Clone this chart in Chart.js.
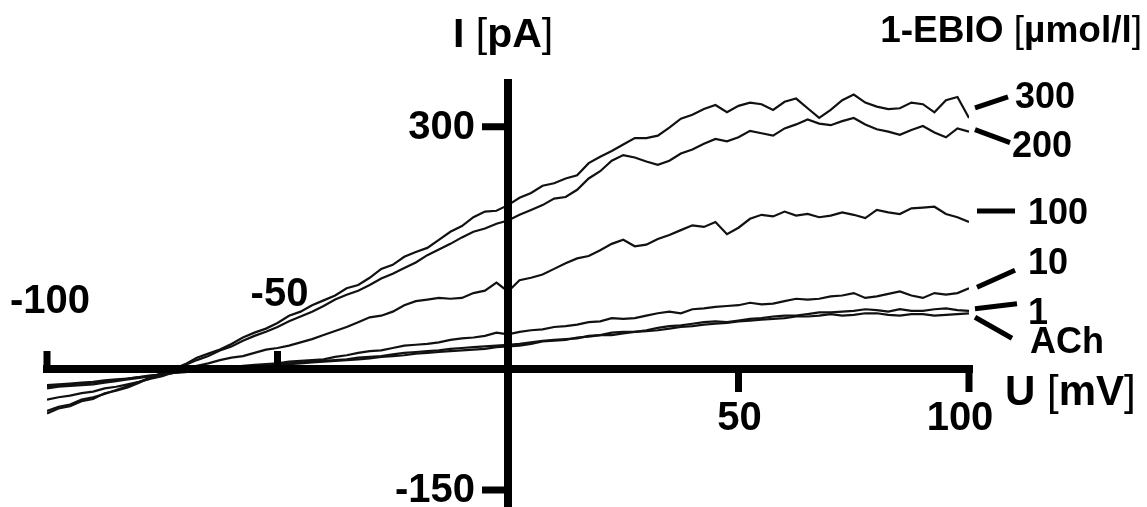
<!DOCTYPE html>
<html lang="en">

<head>
    <meta charset="UTF-8">
    <title>1-EBIO I-U curves</title>
    <script src="https://cdn.jsdelivr.net/npm/chart.js"></script>
    <style>
        html, body {
            margin: 0;
            padding: 0;
            background: #fff;
        }

        .chart-container {
            width: 1147px;
            height: 507px;
        }
    </style>
</head>

<body>
    <div class="chart-container"><canvas id="ivChart" width="1147" height="507"></canvas></div>

    <script>
        // membrane potential U [mV]
        const voltages = [-100, -97.5, -95, -92.5, -90, -87.5, -85, -82.5, -80, -77.5, -75, -72.5, -70, -67.5, -65, -62.5,
            -60, -57.5, -55, -52.5, -50, -47.5, -45, -42.5, -40, -37.5, -35, -32.5, -30, -27.5, -25, -22.5,
            -20, -17.5, -15, -12.5, -10, -7.5, -5, -2.5, 0, 2.5, 5, 7.5, 10, 12.5, 15, 17.5,
            20, 22.5, 25, 27.5, 30, 32.5, 35, 37.5, 40, 42.5, 45, 47.5, 50, 52.5, 55, 57.5,
            60, 62.5, 65, 67.5, 70, 72.5, 75, 77.5, 80, 82.5, 85, 87.5, 90, 92.5, 95, 97.5, 100];

        // current I [pA] for each 1-EBIO concentration (and ACh alone)
        const ebio300 = [-55, -49, -46, -40, -37, -30, -27, -23, -17, -10, -5, 0, 6, 14, 19, 24,
            31, 39, 45, 50, 57, 66, 71, 79, 85, 91, 100, 104, 113, 124, 129, 139,
            145, 150, 160, 170, 177, 188, 195, 196, 203, 212, 218, 227, 230, 236, 240, 255,
            263, 270, 278, 286, 286, 289, 299, 310, 315, 322, 327, 318, 326, 330, 328, 321,
            331, 335, 323, 311, 321, 333, 340, 330, 325, 322, 323, 330, 328, 318, 333, 337, 311];
        const ebio200 = [-52, -47, -44, -38, -35, -31, -26, -21, -16, -11, -5, 0, 5, 11, 16, 23,
            28, 35, 41, 46, 52, 59, 65, 71, 78, 86, 92, 97, 104, 112, 118, 125,
            132, 141, 148, 155, 163, 170, 174, 180, 184, 191, 197, 203, 211, 213, 222, 236,
            245, 258, 265, 262, 257, 253, 258, 267, 272, 279, 285, 282, 287, 295, 292, 289,
            298, 303, 309, 304, 302, 307, 311, 303, 297, 294, 290, 296, 301, 293, 287, 298, 294];
        const ebio100 = [-38, -35, -33, -30, -28, -24, -22, -19, -16, -12, -9, -4, 1, 4, 7, 11,
            14, 16, 20, 24, 26, 29, 33, 37, 42, 47, 52, 58, 64, 66, 71, 79,
            84, 86, 88, 87, 88, 94, 97, 107, 96, 110, 113, 117, 124, 131, 137, 140,
            147, 155, 160, 152, 154, 161, 166, 172, 178, 176, 182, 167, 175, 186, 191, 189,
            195, 190, 192, 188, 190, 194, 191, 187, 197, 194, 192, 199, 200, 201, 192, 188, 182];
        const ebio10 = [-24, -22, -21, -20, -19, -17, -15, -13, -11, -9, -7, -4, -2, -1, 0, 1,
            2, 4, 5, 6, 7, 9, 10, 11, 12, 15, 17, 20, 22, 23, 26, 29,
            30, 31, 33, 36, 38, 39, 41, 45, 43, 46, 48, 49, 52, 53, 55, 58,
            59, 63, 62, 63, 66, 69, 71, 69, 74, 75, 77, 78, 79, 82, 80, 81,
            84, 87, 86, 87, 90, 91, 94, 88, 90, 93, 96, 91, 88, 94, 92, 94, 100];
        const ebio1 = [-22, -21, -19, -18, -17, -15, -14, -12, -10, -9, -7, -5, -3, -1, 0, 1,
            2, 3, 4, 5, 6, 7, 8, 9, 10, 11, 12, 14, 15, 16, 18, 20,
            21, 22, 23, 25, 26, 27, 28, 29, 30, 31, 33, 35, 36, 37, 38, 41,
            42, 45, 46, 46, 48, 51, 53, 54, 56, 58, 59, 58, 60, 62, 63, 65,
            66, 66, 68, 70, 70, 71, 72, 74, 73, 71, 74, 72, 72, 74, 75, 73, 72];
        const ach = [-20, -19, -18, -17, -16, -14, -13, -12, -10, -8, -7, -5, -4, -2, -1, 0,
            1, 2, 3, 4, 5, 6, 7, 8, 9, 10, 11, 12, 13, 15, 16, 17,
            19, 20, 21, 22, 23, 24, 25, 27, 28, 29, 31, 34, 35, 36, 39, 40,
            42, 42, 44, 46, 47, 48, 50, 52, 53, 55, 56, 57, 59, 60, 61, 62,
            63, 65, 65, 66, 68, 66, 67, 69, 69, 67, 66, 68, 68, 66, 67, 68, 69];

        const seriesNames = ['300', '200', '100', '10', '1', 'ACh'];
        const seriesValues = [ebio300, ebio200, ebio100, ebio10, ebio1, ach];

        const xTicks = [-100, -50, 50, 100];
        const yTicks = [300, -150];

        // tick label shift (dx, baseline dy) relative to the tick on the axis
        const xTickLabelShift = { '-100': [3, -56], '-50': [2, -63], '50': [1, 61], '100': [-9, 61] };

        // leader line + label offsets from the end of each trace: x0, y0, x1, y1, textX, textY
        const labelOffsets = [
            [6, -10, 39, -21, 46, -20],
            [6, -2, 41, 11, 43, 15],
            [8, -11, 46, -11, 59, -8],
            [8, -1, 46, -18, 59, -24],
            [6, -2, 48, -7, 59, 3],
            [6, 4, 43, 25, 61, 30]
        ];

        const FONT = '"Liberation Sans", Arial, sans-serif';

        // brackets are set in regular weight, the rest bold
        function drawMixed(ctx, parts, x, y, size, align) {
            let total = 0;
            parts.forEach(p => {
                ctx.font = (p[1] ? 'bold ' : '') + size + 'px ' + FONT;
                total += ctx.measureText(p[0]).width;
            });
            let cx = align === 'right' ? x - total : x;
            ctx.textAlign = 'left';
            parts.forEach(p => {
                ctx.font = (p[1] ? 'bold ' : '') + size + 'px ' + FONT;
                ctx.fillText(p[0], cx, y);
                cx += ctx.measureText(p[0]).width;
            });
        }

        const axesPlugin = {
            id: 'crossAxes',
            afterDatasetsDraw(chart) {
                const ctx = chart.ctx;
                const xs = chart.scales.x;
                const ys = chart.scales.y;
                const area = chart.chartArea;
                const x0 = xs.getPixelForValue(0);
                const y0 = ys.getPixelForValue(0);

                ctx.save();
                ctx.strokeStyle = '#000';
                ctx.fillStyle = '#000';
                ctx.lineCap = 'butt';
                ctx.lineWidth = 8;

                // axes crossing at the origin
                ctx.beginPath();
                ctx.moveTo(xs.getPixelForValue(-100) - 4, y0);
                ctx.lineTo(xs.getPixelForValue(100) + 4, y0);
                ctx.moveTo(x0, area.top - 1);
                ctx.lineTo(x0, area.bottom);
                ctx.stroke();

                // x ticks: negative ones point up, positive ones down
                ctx.lineWidth = 7;
                ctx.beginPath();
                xTicks.forEach(v => {
                    const px = xs.getPixelForValue(v);
                    ctx.moveTo(px, y0);
                    ctx.lineTo(px, v < 0 ? y0 - 18 : y0 + 23);
                });
                yTicks.forEach(v => {
                    const py = ys.getPixelForValue(v);
                    ctx.moveTo(x0, py);
                    ctx.lineTo(x0 - 26, py);
                });
                ctx.stroke();

                ctx.font = 'bold 40px ' + FONT;
                ctx.textBaseline = 'alphabetic';
                ctx.textAlign = 'center';
                xTicks.forEach(v => {
                    const s = xTickLabelShift[String(v)];
                    ctx.fillText(String(v), xs.getPixelForValue(v) + s[0], y0 + s[1]);
                });
                ctx.textAlign = 'right';
                yTicks.forEach(v => {
                    ctx.fillText(String(v), x0 - 33, ys.getPixelForValue(v) + 12);
                });

                // axis titles
                drawMixed(ctx, [['I ', true], ['[', false], ['pA', true], [']', false]], x0 - 55, 47, 41, 'left');
                drawMixed(ctx, [['U ', true], ['[', false], ['mV', true], [']', false]], 1005, 405, 42, 'left');
                drawMixed(ctx, [['1-EBIO ', true], ['[', false], ['µmol/l', true], [']', false]], 1142, 42, 37, 'right');

                // series labels with leader lines
                ctx.lineWidth = 5;
                ctx.font = 'bold 36px ' + FONT;
                ctx.textAlign = 'left';
                ctx.textBaseline = 'middle';
                seriesValues.forEach((vals, i) => {
                    const ex = xs.getPixelForValue(voltages[voltages.length - 1]);
                    const ey = ys.getPixelForValue(vals[vals.length - 1]);
                    const o = labelOffsets[i];
                    ctx.beginPath();
                    ctx.moveTo(ex + o[0], ey + o[1]);
                    ctx.lineTo(ex + o[2], ey + o[3]);
                    ctx.stroke();
                    ctx.fillText(seriesNames[i], ex + o[4], ey + o[5]);
                });
                ctx.restore();
            }
        };

        const datasets = seriesValues.map((vals, i) => ({
            label: seriesNames[i],
            data: voltages.map((u, k) => ({ x: u, y: vals[k] })),
            showLine: true,
            borderColor: '#111',
            borderWidth: 2.2,
            pointRadius: 0,
            tension: 0,
            fill: false
        }));

        new Chart(document.getElementById('ivChart').getContext('2d'), {
            type: 'scatter',
            data: { datasets },
            options: {
                responsive: false,
                animation: false,
                layout: { padding: { left: 47, right: 178, top: 80, bottom: 0 } },
                plugins: { legend: { display: false }, tooltip: { enabled: false } },
                scales: {
                    x: { type: 'linear', min: -100, max: 100, display: false },
                    y: { type: 'linear', min: -171, max: 358, display: false }
                }
            },
            plugins: [axesPlugin]
        });
    </script>
</body>

</html>
